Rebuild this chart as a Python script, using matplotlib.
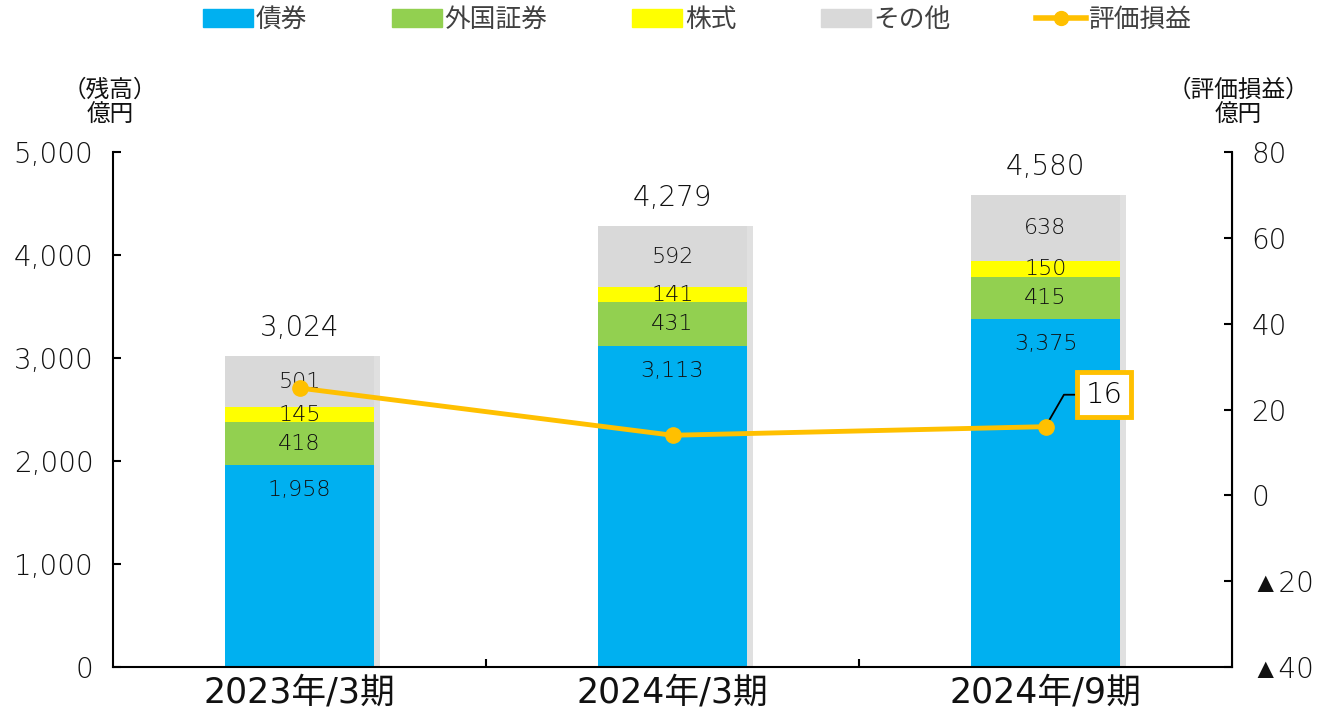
import numpy as np
import matplotlib.pyplot as plt
from matplotlib.patches import Patch
from matplotlib.lines import Line2D
import matplotlib.patheffects as pe

plt.rcParams['font.family'] = ['DejaVu Sans', 'Noto Sans CJK JP']

# data
periods = ["2023年/3期", "2024年/3期", "2024年/9期"]
bonds = [1958, 3113, 3375]
foreign = [418, 431, 415]
stocks = [145, 141, 150]
others = [501, 592, 638]
totals = [3024, 4279, 4580]
valuation = [25, 14, 16]

series = [("債券", bonds, "#00B0F0"),
          ("外国証券", foreign, "#92D050"),
          ("株式", stocks, "#FFFF00"),
          ("その他", others, "#D9D9D9")]
line_color = "#FFC000"
txt_color = "#111111"
num_weight = 200  # thin numbers like the original
num_family = ['DejaVu Sans', 'Liberation Sans']

fig = plt.figure(figsize=(13.17, 7.07), dpi=100)
ax = fig.add_axes([113 / 1317, 1 - 667 / 707, 1119 / 1317, 515 / 707])
ax2 = ax.twinx()

x = np.arange(len(periods))
shadow = [pe.SimplePatchShadow(offset=(4, 0), shadow_rgbFace='#999999', alpha=0.3), pe.Normal()]
bottom = np.zeros(len(periods))
for i, (name, vals, col) in enumerate(series):
    vals = np.array(vals)
    bars = ax.bar(x, vals, 0.4, bottom=bottom, color=col, zorder=2)
    for b in bars:
        b.set_path_effects(shadow)
    for xi, v, b0 in zip(x, vals, bottom):
        if i == 0:
            ypos = b0 + v - 240
        else:
            ypos = b0 + v / 2
        ax.text(xi, ypos, f"{v:,}", ha='center', va='center', fontsize=16, color=txt_color,
                weight=num_weight, zorder=5)
    bottom = bottom + vals

for xi, t in zip(x, totals):
    ax.text(xi, t + 270, f"{t:,}", ha='center', va='center', fontsize=20, color=txt_color, weight=num_weight)

ax.set_xlim(-0.5, 2.5)
ax.set_ylim(0, 5000)
ax.set_yticks(np.arange(0, 5001, 1000))
ax.set_yticklabels([f"{v:,}" for v in range(0, 5001, 1000)], weight=num_weight, family=num_family)
ax.tick_params(axis='y', direction='in', length=6, width=1.5, labelsize=20, labelcolor=txt_color, pad=14)
ax.set_xticks(x)
ax.set_xticklabels(periods)
ax.set_xticks([0.5, 1.5], minor=True)
ax.tick_params(axis='x', which='major', length=0, labelsize=25, labelcolor=txt_color, pad=6)
ax.tick_params(axis='x', which='minor', direction='in', length=6, width=1.5)
ax.spines['top'].set_visible(False)
for s in ['left', 'bottom']:
    ax.spines[s].set_linewidth(1.5)

ax2.plot(x, valuation, color=line_color, lw=3.5, marker='o', markersize=11, zorder=4)
ax2.set_ylim(-40, 80)
rt = np.arange(-40, 81, 20)
ax2.set_yticks(rt)
# the triangle glyph already carries its own gap
ax2.set_yticklabels([f"▲{abs(v)}" if v < 0 else str(v) for v in rt], weight=num_weight, family=num_family)
ax2.tick_params(axis='y', direction='in', length=6, width=1.5, labelsize=20, labelcolor=txt_color, pad=14)
ax2.spines['top'].set_visible(False)
ax2.spines['right'].set_linewidth(1.5)
ax2.spines['left'].set_visible(False)
ax2.spines['bottom'].set_visible(False)
ax.set_zorder(1)
ax2.set_zorder(2)
ax2.patch.set_visible(False)

ax2.annotate(f"{valuation[-1]}", xy=(x[-1], valuation[-1]), xytext=(42, 23), textcoords='offset points',
             fontsize=21, color='black', ha='center', va='center', weight=num_weight,
             bbox=dict(boxstyle='square,pad=0.3', fc='white', ec=line_color, lw=3.5),
             arrowprops=dict(arrowstyle='-', color='black', lw=1.3, shrinkA=0, shrinkB=2,
                             connectionstyle='angle,angleA=0,angleB=60,rad=0'))

fig.text(110 / 1317, 1 - 103 / 707, "（残高）\n億円", ha='center', va='center', fontsize=17,
         color=txt_color, linespacing=1.15, family='Noto Sans CJK JP')
fig.text(1238 / 1317, 1 - 103 / 707, "（評価損益）\n億円", ha='center', va='center', fontsize=17,
         color=txt_color, linespacing=1.15, family='Noto Sans CJK JP')

handles = [Patch(color=c, label=n) for n, _, c in series]
handles.append(Line2D([], [], color=line_color, lw=4, marker='o', markersize=10, label="評価損益"))
fig.legend(handles=handles, loc='center', bbox_to_anchor=(697 / 1317, 1 - 20 / 707), ncol=5,
           frameon=False, handlelength=1.95, handletextpad=0.1, columnspacing=3.3,
           labelcolor='#404040', prop={'family': 'Noto Sans CJK JP', 'size': 18.5})

fig.savefig("out.png", dpi=100)
